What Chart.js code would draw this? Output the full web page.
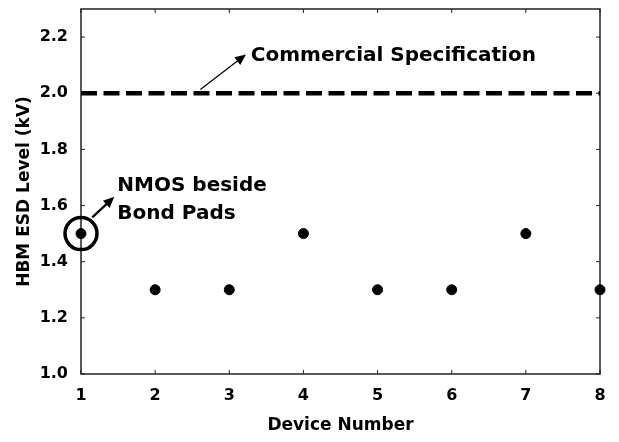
<!DOCTYPE html>
<html>
<head>
<meta charset="utf-8">
<script src="https://cdn.jsdelivr.net/npm/chart.js@4.4.1/dist/chart.umd.min.js"></script>
<style>
  body { margin: 0; background: #fff; }
  canvas { display: block; }
</style>
</head>
<body>
<canvas id="esd-chart" width="619" height="442"></canvas>
<script>
// data
const devices = [1, 2, 3, 4, 5, 6, 7, 8];
const hbmLevels = [1.5, 1.3, 1.3, 1.5, 1.3, 1.3, 1.5, 1.3];
const specLevel = 2.0;
const xTicks = [1, 2, 3, 4, 5, 6, 7, 8];
const yTicks = [1.0, 1.2, 1.4, 1.6, 1.8, 2.0, 2.2];
const specLabel = 'Commercial Specification';
const nmosLabel = ['NMOS beside', 'Bond Pads'];

const FONT = '"DejaVu Sans", sans-serif';

const drawArrow = (ctx, x1, y1, x2, y2, width, head) => {
  const ang = Math.atan2(y2 - y1, x2 - x1);
  ctx.lineWidth = width;
  ctx.beginPath();
  ctx.moveTo(x1, y1);
  ctx.lineTo(x2 - Math.cos(ang) * head * 0.8, y2 - Math.sin(ang) * head * 0.8);
  ctx.stroke();
  ctx.beginPath();
  ctx.moveTo(x2, y2);
  ctx.lineTo(x2 - head * Math.cos(ang - 0.42), y2 - head * Math.sin(ang - 0.42));
  ctx.lineTo(x2 - head * Math.cos(ang + 0.42), y2 - head * Math.sin(ang + 0.42));
  ctx.closePath();
  ctx.fill();
}

// frame with inward ticks on all four sides
const framePlugin = {
  id: 'frame',
  beforeDatasetsDraw(chart) {
    const { ctx, chartArea: a, scales: { x, y } } = chart;
    ctx.save();
    ctx.strokeStyle = '#222';
    ctx.lineWidth = 1;
    xTicks.forEach(v => {
      const px = x.getPixelForValue(v);
      ctx.beginPath();
      ctx.moveTo(px, a.bottom); ctx.lineTo(px, a.bottom - 4);
      ctx.moveTo(px, a.top); ctx.lineTo(px, a.top + 4);
      ctx.stroke();
    });
    yTicks.forEach(v => {
      const py = y.getPixelForValue(v);
      ctx.beginPath();
      ctx.moveTo(a.left, py); ctx.lineTo(a.left + 4, py);
      ctx.moveTo(a.right, py); ctx.lineTo(a.right - 4, py);
      ctx.stroke();
    });
    ctx.lineWidth = 1.5;
    ctx.strokeRect(a.left, a.top, a.right - a.left, a.bottom - a.top);
    ctx.restore();
  }
};

const notesPlugin = {
  id: 'notes',
  afterDatasetsDraw(chart) {
    const { ctx, scales: { x, y } } = chart;
    ctx.save();
    ctx.fillStyle = '#000';
    ctx.strokeStyle = '#000';
    ctx.font = 'bold 20px ' + FONT;
    ctx.textBaseline = 'alphabetic';
    ctx.textAlign = 'left';

    // commercial spec note
    ctx.fillText(specLabel, x.getPixelForValue(3.29), y.getPixelForValue(2.114));
    drawArrow(ctx, x.getPixelForValue(2.61), y.getPixelForValue(2.013),
      x.getPixelForValue(3.225), y.getPixelForValue(2.138), 1.2, 12);

    // circled first device
    ctx.lineWidth = 3.5;
    ctx.beginPath();
    ctx.arc(x.getPixelForValue(devices[0]), y.getPixelForValue(hbmLevels[0]), 16, 0, Math.PI * 2);
    ctx.stroke();
    drawArrow(ctx, x.getPixelForValue(1.152), y.getPixelForValue(1.558),
      x.getPixelForValue(1.449), y.getPixelForValue(1.631), 2.2, 12);
    ctx.fillText(nmosLabel[0], x.getPixelForValue(1.49), y.getPixelForValue(1.653));
    ctx.fillText(nmosLabel[1], x.getPixelForValue(1.49), y.getPixelForValue(1.552));
    ctx.restore();
  }
};

const config = {
  data: {
    datasets: [
      {
        type: 'line',
        label: 'Commercial Specification',
        data: [{ x: xTicks[0], y: specLevel }, { x: xTicks[xTicks.length - 1], y: specLevel }],
        borderColor: '#000',
        borderWidth: 4.5,
        borderDash: [16, 6.5],
        pointRadius: 0,
        fill: false
      },
      {
        type: 'scatter',
        label: 'HBM ESD Level',
        data: devices.map((d, i) => ({ x: d, y: hbmLevels[i] })),
        backgroundColor: '#000',
        borderColor: '#000',
        pointRadius: 5,
        clip: false
      }
    ]
  },
  options: {
    responsive: false,
    animation: false,
    layout: { padding: { top: 9, right: 19, left: 0, bottom: 0 } },
    plugins: {
      legend: { display: false },
      tooltip: { enabled: false }
    },
    scales: {
      x: {
        type: 'linear',
        min: 1,
        max: 8,
        grid: { display: false, drawTicks: false },
        border: { display: false },
        afterBuildTicks: scale => { scale.ticks = xTicks.map(v => ({ value: v })); },
        afterFit: scale => {
          scale.height = 68;
          scale.paddingLeft = 0;
          scale.paddingRight = 0;
        },
        ticks: {
          color: '#000',
          padding: 12,
          font: { family: FONT, size: 16, weight: 'bold' },
          callback: v => String(v)
        },
        title: {
          display: true,
          text: 'Device Number',
          color: '#000',
          padding: { top: 0, bottom: 6 },
          font: { family: FONT, size: 17, weight: 'bold' }
        }
      },
      y: {
        type: 'linear',
        min: 1.0,
        max: 2.3,
        grid: { display: false, drawTicks: false },
        border: { display: false },
        afterBuildTicks: scale => { scale.ticks = yTicks.map(v => ({ value: v })); },
        afterFit: scale => {
          scale.width = 81;
          scale.paddingTop = 0;
          scale.paddingBottom = 0;
        },
        ticks: {
          color: '#000',
          padding: 13,
          font: { family: FONT, size: 16, weight: 'bold' },
          callback: v => Number(v).toFixed(1)
        },
        title: {
          display: true,
          text: 'HBM ESD Level (kV)',
          color: '#000',
          padding: { top: 14, bottom: 0 },
          font: { family: FONT, size: 17, weight: 'bold' }
        }
      }
    }
  },
  plugins: [framePlugin, notesPlugin]
};

window.addEventListener('DOMContentLoaded', () => {
  try {
    new Chart(document.getElementById('esd-chart'), config);
  } catch (err) {
    console.error(err);
  }
});
</script>
</body>
</html>
